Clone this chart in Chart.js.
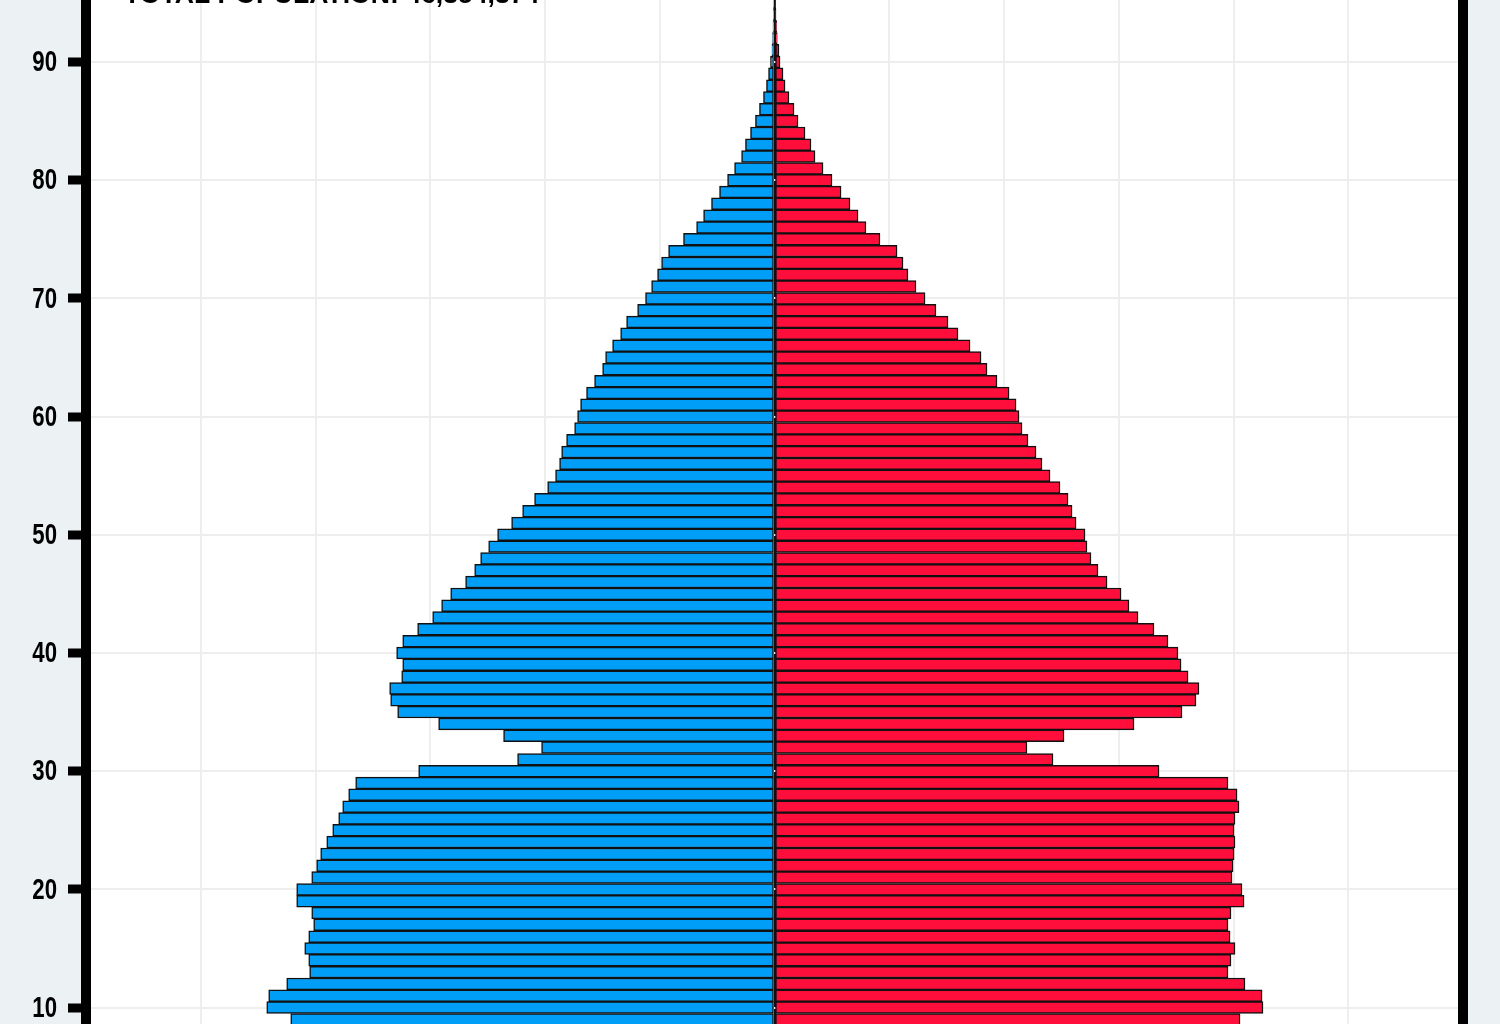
<!DOCTYPE html>
<html>
<head>
<meta charset="utf-8">
<script src="https://cdn.jsdelivr.net/npm/chart.js@4.4.1/dist/chart.umd.min.js"></script>
<style>
  html, body { margin: 0; padding: 0; background: #ecf1f4; overflow: hidden; }
  #wrap { position: absolute; left: 0; top: -100px; width: 1500px; height: 1350px; }
</style>
</head>
<body>
<div id="wrap"><canvas id="pyramid"></canvas></div>
<script>
// Single-year ages, top to bottom (only the visible part of the pyramid)
const ages = [100, 99, 98, 97, 96, 95, 94, 93, 92, 91,
  90, 89, 88, 87, 86, 85, 84, 83, 82, 81,
  80, 79, 78, 77, 76, 75, 74, 73, 72, 71,
  70, 69, 68, 67, 66, 65, 64, 63, 62, 61,
  60, 59, 58, 57, 56, 55, 54, 53, 52, 51,
  50, 49, 48, 47, 46, 45, 44, 43, 42, 41,
  40, 39, 38, 37, 36, 35, 34, 33, 32, 31,
  30, 29, 28, 27, 26, 25, 24, 23, 22, 21,
  20, 19, 18, 17, 16, 15, 14, 13, 12, 11,
  10, 9];

// Males (drawn to the left)
const male = [100, 200, 300, 400, 600, 800, 1000, 1300, 1700, 2200,
  3500, 5200, 7000, 9600, 13100, 16600, 20900, 25300, 28700, 34800,
  40900, 47900, 54900, 61800, 67900, 79300, 92300, 98400, 101900, 107100,
  112400, 119300, 128900, 134100, 141100, 147200, 149800, 156800, 163800, 169000,
  171600, 174200, 181200, 185500, 187300, 190800, 197700, 209100, 219500, 229100,
  241300, 249100, 256100, 261300, 269200, 282200, 290100, 297900, 311000, 324000,
  329300, 324000, 324900, 335400, 334500, 328400, 292700, 236100, 203000, 223900,
  310100, 365000, 371100, 376300, 379800, 385000, 390200, 395500, 399000, 403300,
  416400, 416400, 403300, 401600, 405900, 409400, 405900, 405100, 425100, 440800,
  442500, 421600];

// Females (drawn to the right)
const female = [100, 200, 400, 600, 800, 900, 1300, 1900, 2400, 3900,
  4800, 7400, 9200, 12600, 17000, 20500, 26600, 31800, 35300, 42300,
  50100, 58000, 65800, 72800, 79700, 91900, 106800, 112000, 116300, 123300,
  131200, 140700, 151200, 159900, 170400, 180000, 185200, 193900, 204400, 210500,
  213100, 215700, 220900, 227900, 233100, 240100, 248800, 255800, 259300, 262800,
  270600, 272300, 275800, 281900, 289800, 302000, 308900, 316800, 330700, 342900,
  351600, 354300, 360400, 369900, 367300, 355100, 313300, 252300, 220000, 242700,
  335100, 395200, 403100, 404800, 401300, 400500, 401300, 400500, 399600, 398700,
  407400, 409200, 397800, 395200, 397000, 401300, 397800, 395200, 410000, 424900,
  425700, 405700];

const ageTicks = [0, 10, 20, 30, 40, 50, 60, 70, 80, 90, 100];
const titleText = 'TOTAL POPULATION: 46,354,374';

// white plot background, thick black frame, title and condensed age labels
const framePlugin = {
  id: 'frame',
  beforeDraw(chart) {
    const {ctx, chartArea: a} = chart;
    ctx.save();
    ctx.fillStyle = '#ffffff';
    ctx.fillRect(a.left, a.top, a.right - a.left, a.bottom - a.top);
    ctx.restore();
  },
  afterDraw(chart) {
    const {ctx, chartArea: a} = chart;
    const yScale = chart.scales.y;
    ctx.save();
    ctx.strokeStyle = '#000000';
    ctx.lineWidth = 10;
    ctx.strokeRect(a.left, a.top, a.right - a.left, a.bottom - a.top);
    ctx.fillStyle = '#000000';
    ctx.font = 'bold 26.6px "Liberation Sans", Arial, sans-serif';
    ctx.textBaseline = 'alphabetic';
    ctx.textAlign = 'left';
    ctx.fillText(titleText, a.left + 38, a.top + 65);

    // tall narrow tick labels
    ctx.font = 'bold 30px "Liberation Sans", Arial, sans-serif';
    ctx.textAlign = 'right';
    ctx.textBaseline = 'middle';
    ageTicks.forEach(v => {
      const py = yScale.getPixelForValue(v);
      ctx.save();
      ctx.translate(57, py + 1);
      ctx.scale(0.74, 1);
      ctx.fillText(String(v), 0, 0);
      ctx.restore();
    });
    ctx.restore();
  }
};

const ctx = document.getElementById('pyramid').getContext('2d');
const pyramid = new Chart(ctx, {
  type: 'bar',
  data: {
    datasets: [{
      label: 'Male',
      data: ages.map((a, i) => ({ x: -male[i], y: a })),
      backgroundColor: '#009ef7',
      borderColor: '#111111',
      borderWidth: 1.5,
      borderSkipped: false
    }, {
      label: 'Female',
      data: ages.map((a, i) => ({ x: female[i], y: a })),
      backgroundColor: '#ff0d3b',
      borderColor: '#111111',
      borderWidth: 1.5,
      borderSkipped: false
    }]
  },
  options: {
    indexAxis: 'y',
    responsive: true,
    maintainAspectRatio: false,
    animation: false,
    layout: { padding: { top: 37.9, bottom: 118.3, right: 37, left: 0 } },
    datasets: {
      bar: { grouped: false, barPercentage: 1, categoryPercentage: 1 }
    },
    plugins: {
      legend: { display: false },
      tooltip: { enabled: false }
    },
    scales: {
      x: {
        type: 'linear',
        min: -600000,
        max: 600000,
        ticks: { display: false, stepSize: 100000 },
        grid: {
          color: c => (c.tick && c.tick.value === 0 ? '#111111' : '#eeeeee'),
          lineWidth: 2,
          drawTicks: false
        },
        border: { display: false }
      },
      y: {
        type: 'linear',
        min: -0.5,
        max: 100.5,
        offset: false,
        afterFit(scale) { scale.width = 86; },
        ticks: {
          stepSize: 10,
          includeBounds: false,
          padding: 11,
          color: 'rgba(0,0,0,0)',
          font: { size: 29 }
        },
        grid: {
          offset: false,
          color: '#eeeeee',
          lineWidth: 2,
          tickLength: 18,
          tickWidth: 9,
          tickColor: '#000000'
        },
        border: { color: '#000000', width: 10 }
      }
    }
  },
  plugins: [framePlugin]
});
</script>
</body>
</html>
